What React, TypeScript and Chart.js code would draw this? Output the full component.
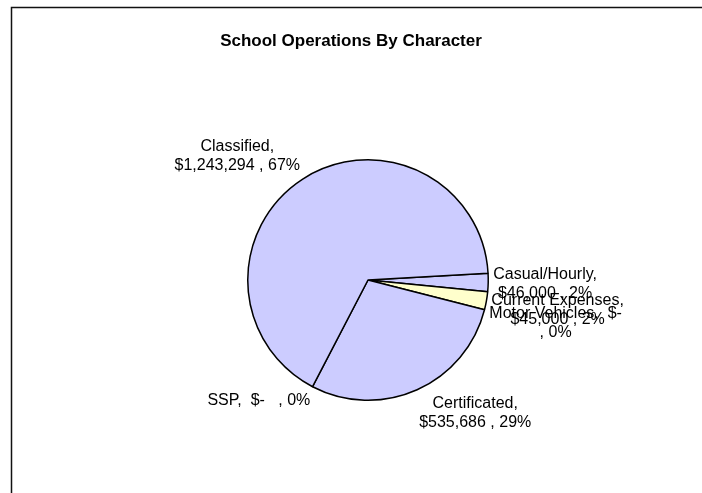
import React, { useEffect, useRef } from 'react';
import { Chart, registerables } from 'chart.js';

Chart.register(...registerables);

const chartTitle = 'School Operations By Character';
const categories = ['Casual/Hourly', 'Current Expenses', 'Motor Vehicles', 'Certificated', 'SSP', 'Classified'];
const amounts = [46000, 45000, 0, 535686, 0, 1243294];
const percentLabels = ['2%', '2%', '0%', '29%', '0%', '67%'];
const sliceColors = ['#CCCCFF', '#FFFFCC', '#CCFFFF', '#CCCCFF', '#CCCCFF', '#CCCCFF'];

const FONT = '"Liberation Sans", Arial, sans-serif';

function formatAmount(v: number): string {
  if (v === 0) return ' $-   ';
  return '$' + v.toLocaleString('en-US') + ' ';
}

function wrapText(ctx: CanvasRenderingContext2D, text: string, maxW: number): string[] {
  const parts = text.split(/(\s+)/).filter((p) => p.length);
  const lines: string[] = [];
  let cur = '';
  for (const p of parts) {
    if (/^\s+$/.test(p)) {
      cur += p;
      continue;
    }
    const cand = cur + p;
    if (cur.trim().length && ctx.measureText(cand.trimEnd()).width > maxW) {
      lines.push(cur.trimEnd());
      cur = p;
    } else {
      cur = cand;
    }
  }
  if (cur.trim()) lines.push(cur.trimEnd());
  return lines;
}

const clamp = (v: number) => Math.max(-1, Math.min(1, v));

const decorPlugin = {
  id: 'decor',
  beforeDraw(chart: any) {
    const ctx = chart.ctx as CanvasRenderingContext2D;
    ctx.save();
    ctx.fillStyle = '#ffffff';
    ctx.fillRect(0, 0, chart.width, chart.height);
    ctx.strokeStyle = '#111';
    ctx.lineWidth = 1.5;
    ctx.strokeRect(11.5, 7.5, 900, 700);
    ctx.fillStyle = '#000';
    ctx.font = `bold 17px ${FONT}`;
    ctx.textAlign = 'center';
    ctx.textBaseline = 'middle';
    ctx.fillText(chartTitle, 351, 41);
    ctx.restore();
  },
  afterDatasetsDraw(chart: any) {
    const ctx = chart.ctx as CanvasRenderingContext2D;
    const meta = chart.getDatasetMeta(0);
    ctx.save();
    ctx.font = `16px ${FONT}`;
    ctx.fillStyle = '#000';
    ctx.textAlign = 'center';
    ctx.textBaseline = 'middle';
    const lh = 19;
    const gap = 5;
    meta.data.forEach((arc: any, i: number) => {
      const { x, y, startAngle, endAngle, outerRadius } = arc.getProps(
        ['x', 'y', 'startAngle', 'endAngle', 'outerRadius'],
        true
      );
      const mid = (startAngle + endAngle) / 2;
      const c = Math.cos(mid);
      const s = Math.sin(mid);
      const text = `${categories[i]}, ${formatAmount(amounts[i])}, ${percentLabels[i]}`;
      const lines = wrapText(ctx, text, 140);
      const w = Math.max(...lines.map((l) => ctx.measureText(l).width));
      const h = lines.length * lh;
      const ax = x + c * (outerRadius + gap);
      const ay = y + s * (outerRadius + gap);
      const cx = ax + clamp(c * 2.5) * (w / 2);
      const cy = ay + clamp(s * 2.5) * (h / 2);
      lines.forEach((l, j) => {
        ctx.fillText(l, cx, cy - h / 2 + lh / 2 + j * lh);
      });
    });
    ctx.restore();
  },
};

export default function App() {
  const canvasRef = useRef<HTMLCanvasElement | null>(null);

  useEffect(() => {
    if (!canvasRef.current) return;
    const chart = new Chart(canvasRef.current, {
      type: 'pie',
      data: {
        labels: categories,
        datasets: [
          {
            data: amounts,
            backgroundColor: sliceColors,
            borderColor: '#000',
            borderWidth: 1.5,
          },
        ],
      },
      options: {
        animation: false,
        responsive: true,
        maintainAspectRatio: false,
        rotation: 86.8,
        events: [],
        layout: { padding: { left: 150, right: 116, top: 159, bottom: 92 } },
        plugins: {
          legend: { display: false },
          tooltip: { enabled: false },
          title: { display: false },
        },
      },
      plugins: [decorPlugin],
    });
    return () => chart.destroy();
  }, []);

  return (
    <div style={{ position: 'fixed', left: 0, top: 0, width: 702, height: 493, background: '#fff' }}>
      <canvas ref={canvasRef} />
    </div>
  );
}
